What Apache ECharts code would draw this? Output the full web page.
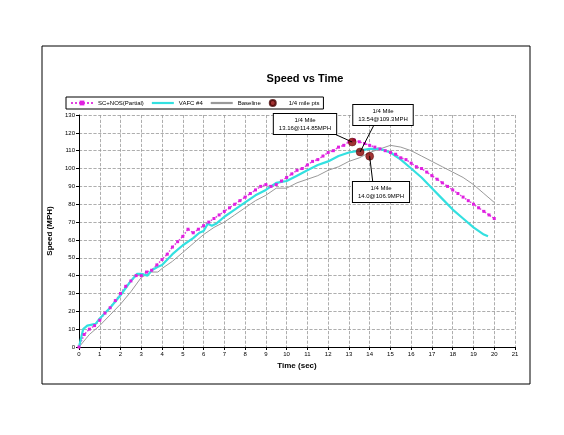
<!DOCTYPE html>
<html>
<head>
<meta charset="utf-8">
<script src="https://cdn.jsdelivr.net/npm/echarts@6/dist/echarts.min.js"></script>
<style>html,body{margin:0;padding:0;background:#fff}#chart{width:564px;height:435px}</style>
</head>
<body>
<div id="chart"></div>
<script>
// SC+NOS(Partial) 曲线
var nosT = [0,0.25,0.5,0.75,1,1.25,1.5,1.75,2,2.25,2.5,2.75,3,3.25,3.5,3.75,4,4.25,4.5,4.75,5,5.25,5.5,5.75,6,6.25,6.5,6.75,7,7.25,7.5,7.75,8,8.25,8.5,8.75,9,9.25,9.5,9.75,10,10.25,10.5,10.75,11,11.25,11.5,11.75,12,12.25,12.5,12.75,13,13.25,13.5,13.75,14,14.25,14.5,14.75,15,15.25,15.5,15.75,16,16.25,16.5,16.75,17,17.25,17.5,17.75,18,18.25,18.5,18.75,19,19.25,19.5,19.75,20];
var nosV = [0,7,10,12,15,19,22,26,30,34,37,40,40,42,43,46,49,52,56,59,62,66,64,66,68,70,72,74,76,78,80,82,84,86,88,90,91,90,91,93,95,97,99,100,102,104,105,107,109,110,112,113,115,116,115,114,113,112,111,110,109,108,106,105,103,101,100,98,96,94,92,90,88,86,84,82,80,78,76,74,72];
// VAFC #4 曲线
var vafcT = [0,0.2,0.4,0.8,1,1.5,2,2.5,2.8,3,3.3,3.5,3.8,4,4.5,5,5.5,5.8,6,6.2,6.4,6.6,7,7.5,8,8.5,9,9.5,10,10.5,11,11.5,12,12.5,13,13.5,14,14.5,15,15.5,16,16.5,17,17.5,18,18.5,19,19.5,19.7];
var vafcV = [0,10,12,13,16,22,29,37,41,41,40,43,45,46,52,57,61,64,65,69,68,69,73,77,81,85,88,92,93,96,99,102,104,107,109,110,111,111,109,105,100,95,89,83,77,72,67,63,62];
// Baseline 曲线
var baseT = [0,0.5,1,1.5,2,2.5,3,3.5,3.8,4,4.5,5,5.5,6,6.5,7,7.5,8,8.5,9,9.5,10,10.5,11,11.5,12,12.5,13,13.5,14,14.5,15,15.5,16,16.5,17,17.5,18,18.5,19,19.5,20];
var baseV = [0,7,12,18,24,31,39,42,42,44,48,53,58,63,67,70,74,78,82,85,89,89,92,94,96,99,101,104,106,109,111,113,112,110,107,104,101,98,95,91,86,81];
// 1/4 mile 点
var qmT = [13.16,13.54,14.0];
var qmV = [114.85,109.3,106.9];
var qmLabels = ['1/4 Mile\n13.16@114.85MPH','1/4 Mile\n13.54@109.3MPH','1/4 Mile\n14.0@106.9MPH'];

function zip(a,b){ return a.map(function(v,i){ return [v,b[i]]; }); }

var font = 'Liberation Sans';
var lineIcon = 'path://M0,0H20V2H0Z';
var myChart = echarts.init(document.getElementById('chart'));
var option = {
    animation:false,
    textStyle:{fontFamily:font},
    title:{text:'Speed vs Time',left:300,top:68,textAlign:'center',textStyle:{fontSize:11,fontWeight:'bold',color:'#000',fontFamily:font}},
    legend:{
        left:66,top:97,itemWidth:22,itemHeight:6,itemGap:8,padding:[2,4],
        borderColor:'#000',borderWidth:1,
        textStyle:{fontSize:6,color:'#000'},
        data:[
            {name:'SC+NOS(Partial)'},
            {name:'VAFC #4',icon:lineIcon,itemStyle:{color:'#33e0e0'}},
            {name:'Baseline',icon:lineIcon,itemStyle:{color:'#999'}},
            {name:'1/4 mile pts',icon:'circle'}
        ]
    },
    grid:{left:79,right:49,top:115,bottom:88},
    xAxis:{
        type:'value',min:0,max:21,interval:1,
        name:'Time (sec)',nameLocation:'middle',nameGap:14,
        nameTextStyle:{fontSize:8,fontWeight:'bold',color:'#000'},
        axisLine:{lineStyle:{color:'#000'}},axisTick:{length:3},
        axisLabel:{fontSize:6,color:'#000',margin:4},
        splitLine:{lineStyle:{color:'#999',type:'dashed',width:0.8}}
    },
    yAxis:{
        type:'value',min:0,max:130,interval:10,
        name:'Speed (MPH)',nameLocation:'middle',nameGap:18,
        nameTextStyle:{fontSize:8,fontWeight:'bold',color:'#000'},
        axisLine:{show:true,lineStyle:{color:'#000'}},axisTick:{show:true,length:3},
        axisLabel:{fontSize:6,color:'#000',margin:4},
        splitLine:{lineStyle:{color:'#999',type:'dashed',width:0.8}}
    },
    graphic:[
        {type:'rect',shape:{x:42,y:46,width:488,height:338},style:{fill:'none',stroke:'#000',lineWidth:1},silent:true}
    ],
    series:[
        {name:'Baseline',type:'line',data:zip(baseT,baseV),showSymbol:false,lineStyle:{color:'#999',width:1},itemStyle:{color:'#999'}},
        {name:'SC+NOS(Partial)',type:'line',data:zip(nosT,nosV),symbol:'rect',symbolSize:3,
            lineStyle:{color:'#e040e0',width:1.5,type:'dotted'},itemStyle:{color:'#e020e0'}},
        {name:'VAFC #4',type:'line',data:zip(vafcT,vafcV),showSymbol:false,lineStyle:{color:'#33e0e0',width:2.2},itemStyle:{color:'#33e0e0'}},
        {name:'1/4 mile pts',type:'scatter',data:zip(qmT,qmV),symbolSize:8,itemStyle:{color:'#8b0000',borderColor:'#400',borderWidth:0.5},z:5}
    ]
};
myChart.setOption(option);

// 注释框和箭头
var boxes = [[305,124],[383,115],[381,192]];
var g = [];
qmT.forEach(function(t,i){
    var p = myChart.convertToPixel({gridIndex:0},[t,qmV[i]]);
    var b = boxes[i];
    var ey = i==2 ? b[1]-8 : b[1]+8;
    g.push({type:'line',shape:{x1:b[0]+(i==0?25:-8),y1:ey,x2:p[0],y2:p[1]},style:{stroke:'#000',lineWidth:1},z:10});
    g.push({type:'text',x:b[0],y:b[1],z:11,style:{text:qmLabels[i],fontSize:6,fontFamily:font,fill:'#000',align:'center',verticalAlign:'middle',
        backgroundColor:'#fff',borderColor:'#000',borderWidth:1,padding:[2,5],lineHeight:8}});
});
option.graphic = option.graphic.concat(g);
myChart.setOption({graphic:option.graphic});
</script>
</body>
</html>
